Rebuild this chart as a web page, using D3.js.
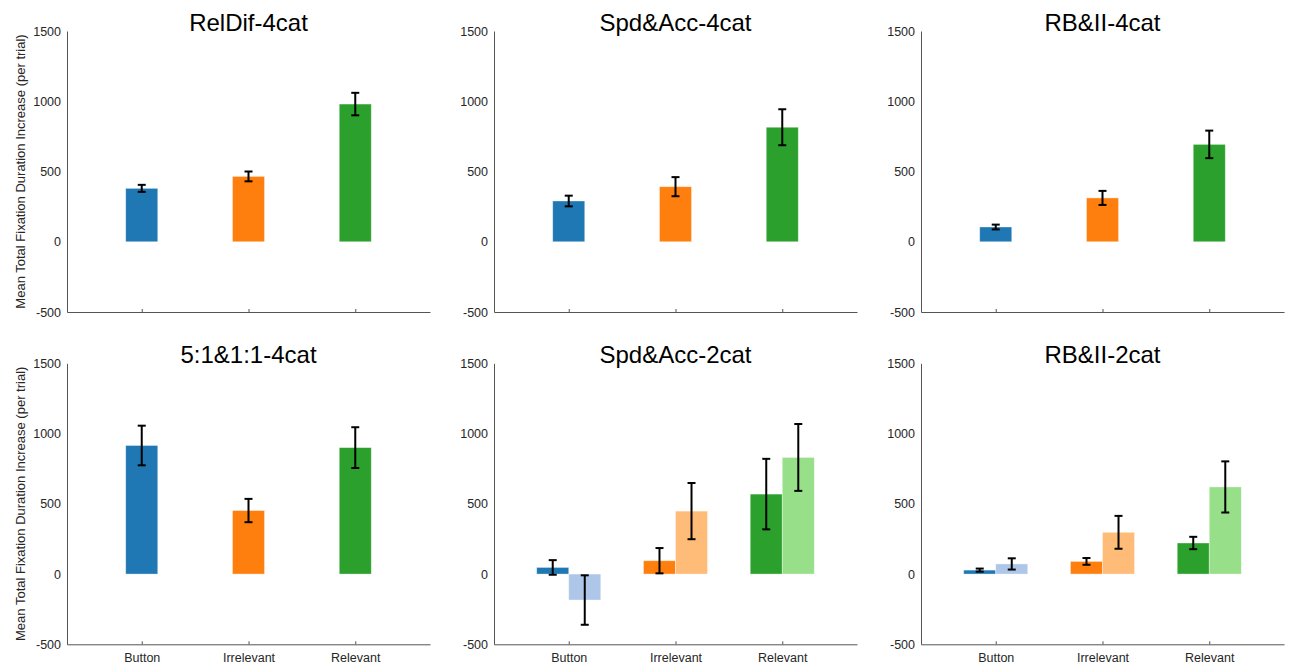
<!DOCTYPE html>
<html>
<head>
<meta charset="utf-8">
<script src="https://cdn.jsdelivr.net/npm/d3@7"></script>
<style>
  body { margin: 0; background: #fff; }
  svg { font-family: Helvetica, "Liberation Sans", Arial, sans-serif; }
  .axis path, .axis line { stroke: #555; }
  .axis text { fill: #262626; font-size: 12.5px; }
</style>
</head>
<body>
<div id="chart"></div>
<script>
const categories = ['Button', 'Irrelevant', 'Relevant'];
const yTicks = [-500, 0, 500, 1000, 1500];
const yLabel = 'Mean Total Fixation Duration Increase (per trial)';

// 4cat panels: one bar per category
const relDifMean = [380, 465, 980];
const relDifErr = [25, 35, 80];
const spdAcc4Mean = [290, 392, 815];
const spdAcc4Err = [38, 68, 128];
const rbii4Mean = [105, 312, 693];
const rbii4Err = [17, 50, 98];
const ratio4Mean = [915, 452, 900];
const ratio4Err = [141, 83, 145];

// 2cat panels: dark + light bar per category
const spdAcc2Dark = [47, 95, 569];
const spdAcc2DarkErr = [52, 90, 251];
const spdAcc2Light = [-185, 448, 830];
const spdAcc2LightErr = [176, 200, 238];
const rbii2Dark = [28, 90, 221];
const rbii2DarkErr = [11, 24, 44];
const rbii2Light = [72, 297, 620];
const rbii2LightErr = [40, 117, 182];

const darkColors = ['#1f77b4', '#ff7f0e', '#2ca02c'];
const lightColors = ['#aec7e8', '#ffbb78', '#98df8a'];

const panels = [
  { title: 'RelDif-4cat', series: [{ mean: relDifMean, err: relDifErr, colors: darkColors }] },
  { title: 'Spd&Acc-4cat', series: [{ mean: spdAcc4Mean, err: spdAcc4Err, colors: darkColors }] },
  { title: 'RB&II-4cat', series: [{ mean: rbii4Mean, err: rbii4Err, colors: darkColors }] },
  { title: '5:1&1:1-4cat', series: [{ mean: ratio4Mean, err: ratio4Err, colors: darkColors }] },
  { title: 'Spd&Acc-2cat', series: [
      { mean: spdAcc2Dark, err: spdAcc2DarkErr, colors: darkColors },
      { mean: spdAcc2Light, err: spdAcc2LightErr, colors: lightColors }] },
  { title: 'RB&II-2cat', series: [
      { mean: rbii2Dark, err: rbii2DarkErr, colors: darkColors },
      { mean: rbii2Light, err: rbii2LightErr, colors: lightColors }] }
];

const W = 1290, H = 666;
const lefts = [67, 494, 921];
const tops = [31, 363.3];
const pw = 363, ph = 281;
const barW = 0.3;

const svg = d3.select('#chart').append('svg')
  .attr('width', W)
  .attr('height', H);

panels.forEach((p, i) => {
  const col = i % 3, row = Math.floor(i / 3);
  const g = svg.append('g')
    .attr('transform', 'translate(' + lefts[col] + ',' + tops[row] + ')');

  const x = d3.scaleLinear().domain([0.3, 3.7]).range([0, pw]);
  const y = d3.scaleLinear().domain([-500, 1500]).range([ph, 0]);

  // bars
  const n = p.series.length;
  p.series.forEach((s, si) => {
    const offset = n === 1 ? -barW / 2 : (si === 0 ? -barW : 0);
    g.selectAll('.bar' + si)
      .data(s.mean)
      .enter().append('rect')
      .attr('x', (d, k) => x(k + 1 + offset))
      .attr('y', d => y(Math.max(d, 0)))
      .attr('width', x(barW) - x(0))
      .attr('height', d => Math.abs(y(d) - y(0)))
      .attr('fill', (d, k) => s.colors[k])
      .attr('stroke', 'rgba(255,255,255,0.45)')
      .attr('stroke-width', 0.8);
  });

  // error bars
  p.series.forEach((s, si) => {
    const offset = n === 1 ? 0 : (si === 0 ? -barW / 2 : barW / 2);
    const eb = g.selectAll('.err' + si)
      .data(s.mean.map((m, k) => ({ m: m, e: s.err[k], k: k })))
      .enter().append('g')
      .attr('stroke', '#000')
      .attr('stroke-width', 2);
    eb.append('line')
      .attr('x1', d => x(d.k + 1 + offset))
      .attr('x2', d => x(d.k + 1 + offset))
      .attr('y1', d => y(d.m - d.e))
      .attr('y2', d => y(d.m + d.e));
    [-1, 1].forEach(sgn => {
      eb.append('line')
        .attr('x1', d => x(d.k + 1 + offset) - 4)
        .attr('x2', d => x(d.k + 1 + offset) + 4)
        .attr('y1', d => y(d.m + sgn * d.e))
        .attr('y2', d => y(d.m + sgn * d.e));
    });
  });

  // axes
  g.append('g')
    .attr('class', 'axis')
    .attr('transform', 'translate(0,' + ph + ')')
    .call(d3.axisBottom(x)
      .tickValues([1, 2, 3])
      .tickFormat(v => row === 1 ? categories[v - 1] : '')
      .tickSize(-3)
      .tickSizeOuter(0)
      .tickPadding(9));

  g.append('g')
    .attr('class', 'axis')
    .call(d3.axisLeft(y)
      .tickValues(yTicks)
      .tickFormat(v => String(v))
      .tickSize(0)
      .tickPadding(6));

  // title
  g.append('text')
    .attr('x', pw / 2)
    .attr('y', -0.5)
    .attr('text-anchor', 'middle')
    .style('font-size', '24px')
    .style('fill', '#000')
    .text(p.title);

  if (col === 0) {
    g.append('text')
      .attr('transform', 'translate(' + (20 - lefts[0]) + ',' + (ph / 2) + ') rotate(-90)')
      .attr('text-anchor', 'middle')
      .attr('dy', '0.35em')
      .style('font-size', '13px')
      .style('fill', '#262626')
      .text(yLabel);
  }
});
</script>
</body>
</html>
